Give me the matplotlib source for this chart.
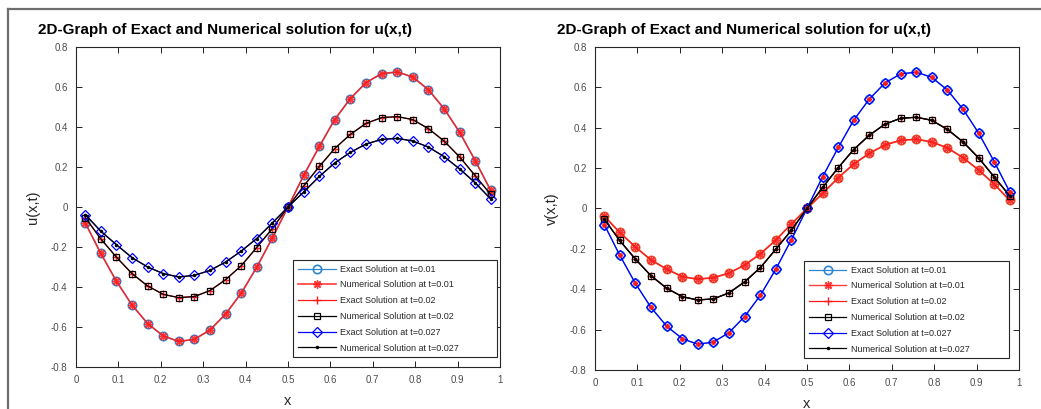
import matplotlib
matplotlib.use("Agg")
import matplotlib.pyplot as plt
from matplotlib.ticker import FuncFormatter, MultipleLocator
from matplotlib.lines import Line2D

plt.rcParams['font.family'] = ['Liberation Sans', 'DejaVu Sans']

# ---------------- data ----------------
x = [0.022, 0.058, 0.095, 0.132, 0.169, 0.206, 0.242, 0.279, 0.316, 0.353,
     0.390, 0.426, 0.463, 0.500, 0.537, 0.574, 0.610, 0.647, 0.684, 0.721,
     0.758, 0.794, 0.831, 0.868, 0.905, 0.942, 0.978]

# u(x,t)
u_t001 = [-0.080, -0.230, -0.370, -0.490, -0.583, -0.645, -0.672, -0.662, -0.615, -0.535,
          -0.430, -0.302, -0.155, 0.000, 0.158, 0.303, 0.437, 0.542, 0.622, 0.667,
          0.675, 0.650, 0.587, 0.492, 0.373, 0.230, 0.083]
u_t002 = [-0.053, -0.158, -0.250, -0.333, -0.395, -0.437, -0.453, -0.448, -0.418, -0.363,
          -0.293, -0.203, -0.108, 0.000, 0.105, 0.203, 0.292, 0.363, 0.418, 0.447,
          0.452, 0.437, 0.392, 0.330, 0.250, 0.155, 0.063]
u_t0027 = [-0.038, -0.120, -0.188, -0.253, -0.300, -0.333, -0.350, -0.342, -0.317, -0.275,
           -0.220, -0.158, -0.080, 0.000, 0.075, 0.153, 0.220, 0.273, 0.315, 0.338,
           0.343, 0.330, 0.300, 0.252, 0.190, 0.120, 0.040]

# v(x,t)
v_small = [-0.038, -0.118, -0.190, -0.255, -0.300, -0.338, -0.350, -0.343, -0.320, -0.280,
           -0.225, -0.157, -0.077, 0.000, 0.075, 0.153, 0.220, 0.273, 0.315, 0.338,
           0.343, 0.330, 0.300, 0.252, 0.190, 0.120, 0.040]
v_mid = [-0.053, -0.158, -0.250, -0.333, -0.395, -0.437, -0.453, -0.448, -0.418, -0.363,
         -0.293, -0.203, -0.108, 0.000, 0.105, 0.203, 0.292, 0.363, 0.418, 0.447,
         0.452, 0.437, 0.392, 0.330, 0.250, 0.155, 0.063]
v_large = [-0.080, -0.230, -0.370, -0.490, -0.583, -0.645, -0.672, -0.662, -0.615, -0.535,
           -0.430, -0.302, -0.155, 0.000, 0.158, 0.303, 0.437, 0.542, 0.622, 0.667,
           0.675, 0.650, 0.587, 0.492, 0.373, 0.230, 0.083]

legend_labels = ["Exact Solution at t=0.01", "Numerical Solution at t=0.01",
                 "Exact Solution at t=0.02", "Numerical Solution at t=0.02",
                 "Exact Solution at t=0.027", "Numerical Solution at t=0.027"]
title_text = "2D-Graph of Exact and Numerical solution for u(x,t)"

# ---------------- styling ----------------
C_LBLUE = '#2f86d0'
C_RED = '#ff1a1a'
C_BLUE = '#0000ff'
C_ORANGE = '#e2562f'
TICK_GRAY = '#4d4d4d'
STAR = (8, 2, 0)

W, H = 1041, 409
fig = plt.figure(figsize=(W / 100, H / 100), dpi=100)

# window frame (grey lines top and left)
fig.add_artist(Line2D([8 / W, 1.0], [1 - 9 / H, 1 - 9 / H], color='#6e6e6e', lw=1.6,
                      transform=fig.transFigure))
fig.add_artist(Line2D([8 / W, 8 / W], [0.0, 1 - 9 / H], color='#6e6e6e', lw=1.6,
                      transform=fig.transFigure))

ax1 = fig.add_axes([76 / W, 1 - 367 / H, 424 / W, 320 / H])
ax2 = fig.add_axes([595 / W, 1 - 370 / H, 424 / W, 323 / H])

ms = 6
LW = 0.9


def style_axes(ax, ylabel, title_x):
    ax.set_xlim(0, 1)
    ax.set_ylim(-0.8, 0.8)
    ax.xaxis.set_major_locator(MultipleLocator(0.1))
    ax.yaxis.set_major_locator(MultipleLocator(0.2))
    fmt = FuncFormatter(lambda v, p: ('%g' % round(v, 2)))
    ax.xaxis.set_major_formatter(fmt)
    ax.yaxis.set_major_formatter(fmt)
    ax.tick_params(direction='in', length=4, width=0.6, labelsize=7,
                   labelcolor=TICK_GRAY, top=True, right=True, pad=6)
    for s in ax.spines.values():
        s.set_linewidth(0.8)
        s.set_color('#262626')
    ax.set_xlabel('x', fontsize=10.5, color='#262626', labelpad=6)
    ax.set_ylabel(ylabel, fontsize=10.5, color='#262626', labelpad=8)
    fig.text(title_x / W, 1 - 30 / H, title_text, fontsize=11, fontweight='bold',
             ha='left', va='center', color='black')


# ---- left panel: u(x,t)
ax1.plot(x, u_t001, '-o', color=C_LBLUE, mfc='none', ms=ms, mew=1.2, lw=LW, label=legend_labels[0])
ax1.plot(x, u_t001, '-', marker=STAR, color=C_RED, alpha=0.85, ms=ms, mew=1.0, lw=1.2, label=legend_labels[1])
ax1.plot(x, u_t002, '-+', color=C_RED, ms=ms, mew=1.0, lw=LW, label=legend_labels[2])
ax1.plot(x, u_t002, '-s', color='black', mfc='none', ms=ms - 1, mew=0.9, lw=LW, label=legend_labels[3])
ax1.plot(x, u_t0027, '-D', color=C_BLUE, mfc='none', ms=ms - 0.5, mew=0.9, lw=LW, label=legend_labels[4])
ax1.plot(x, u_t0027, marker='.', color='black', ms=3, lw=LW, linestyle='-', label=legend_labels[5])
style_axes(ax1, 'u(x,t)', 38)

# ---- right panel: v(x,t)
ax2.plot(x, v_large, '-o', color=C_LBLUE, mfc='none', ms=ms, mew=1.2, lw=LW, label=legend_labels[0])
ax2.plot(x, v_small, '-o', color=C_ORANGE, mfc='none', ms=ms, mew=1.2, lw=1.2)
ax2.plot(x, v_small, '-', marker=STAR, color=C_RED, alpha=0.85, ms=ms, mew=1.0, lw=1.0, label=legend_labels[1])
ax2.plot(x, v_mid, '-+', color=C_RED, ms=ms, mew=1.0, lw=LW, label=legend_labels[2])
ax2.plot(x, v_mid, '-s', color='black', mfc='none', ms=ms - 1, mew=0.9, lw=LW, label=legend_labels[3])
ax2.plot(x, v_large, '-D', color=C_BLUE, mfc='none', ms=ms - 0.5, mew=0.9, lw=LW, label=legend_labels[4])
ax2.plot(x, v_large, marker=STAR, color=C_RED, ms=3.5, mew=0.8, lw=0)
ax2.plot(x, v_mid, marker='.', color='black', ms=3, lw=LW, linestyle='-', label=legend_labels[5])
style_axes(ax2, 'v(x,t)', 557)

legend_boxes = [(0.512, 0.031, 0.481, 0.306), (0.493, 0.037, 0.483, 0.307)]
for ax, bb in zip((ax1, ax2), legend_boxes):
    h, l = ax.get_legend_handles_labels()
    leg = ax.legend(h, l, loc='lower left', bbox_to_anchor=bb, mode='expand',
                    fontsize=6.5, frameon=True, fancybox=False, framealpha=1,
                    edgecolor='#262626', handlelength=4.2, handletextpad=0.5,
                    labelspacing=0.75, borderpad=0.5, borderaxespad=0.0)
    leg.get_frame().set_linewidth(0.8)
    for t in leg.get_texts():
        t.set_color('#262626')

fig.savefig('out.png', dpi=100)
